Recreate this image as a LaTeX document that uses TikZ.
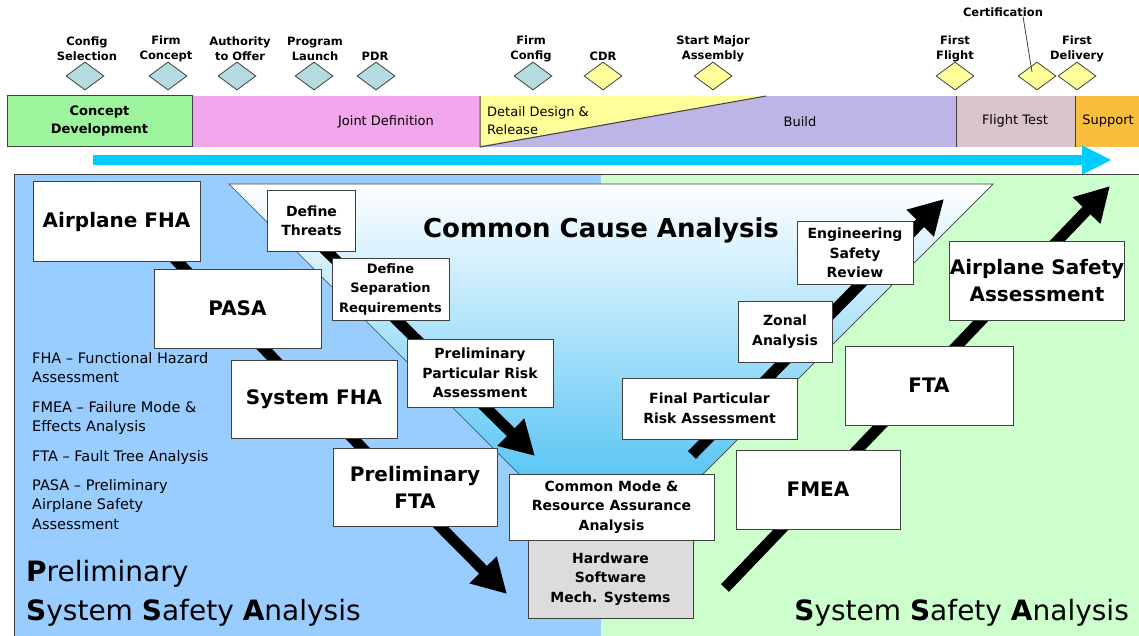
\documentclass[tikz,border=0pt]{standalone}
\usepackage{fontspec}
\setmainfont{DejaVu Sans}
\usetikzlibrary{shapes.geometric,arrows.meta}

\definecolor{conceptgreen}{HTML}{9CF59C}
\definecolor{jointpink}{HTML}{F2A6EC}
\definecolor{detailyellow}{HTML}{FFFF99}
\definecolor{buildpurple}{HTML}{BDB5E5}
\definecolor{testrose}{HTML}{D9C5C9}
\definecolor{supportorange}{HTML}{F8BE3E}
\definecolor{timecyan}{HTML}{00CCFF}
\definecolor{pssablue}{HTML}{99CCFF}
\definecolor{ssagreen}{HTML}{CCFFCC}
\definecolor{gateteal}{HTML}{B4DCE0}
\definecolor{gateyellow}{HTML}{FFFF99}
\definecolor{hwgray}{HTML}{DCDCDC}
\definecolor{ccapale}{HTML}{D6EFFC}
\definecolor{ccadeep}{HTML}{5CC6F5}
\definecolor{boxline}{HTML}{404040}

\tikzset{
  gate/.style={diamond, draw=boxline, line width=0.8pt, inner sep=0pt,
    minimum width=38pt, minimum height=28pt},
  gatelabel/.style={align=center, inner sep=0pt,
    font=\bfseries\fontsize{11.5}{15}\selectfont},
  phase/.style={inner sep=0pt, align=center, font=\fontsize{13}{18}\selectfont},
  bigbox/.style={draw=boxline, fill=white, line width=1pt, inner sep=0pt,
    align=center, font=\bfseries\fontsize{20}{27}\selectfont},
  smallbox/.style={bigbox, font=\bfseries\fontsize{14}{19.5}\selectfont},
  glossary/.style={anchor=north west, align=left, inner sep=0pt,
    font=\fontsize{14.5}{19.5}\selectfont},
  flow/.style={line width=11pt, -{Triangle[length=34pt,width=36pt]}},
}

\begin{document}
\begin{tikzpicture}[x=1pt,y=-1pt]
    \useasboundingbox (0,0) rectangle (1139,636);

    % phase bar
    \fill[jointpink] (192,96) rectangle (480,147);
    \fill[buildpurple] (480,96) rectangle (956,147);
    \fill[testrose] (956,96) rectangle (1075,147);
    \fill[supportorange] (1075,96) rectangle (1139,147);
    \fill[detailyellow] (480,96) -- (766,96) -- (480,146) -- cycle;
    \draw[boxline, line width=1pt] (480,96) -- (480,147) -- (766,96);
    \draw[boxline, line width=0.8pt] (956,96) -- (956,147);
    \draw[boxline, line width=0.8pt] (1075,96) -- (1075,147);

    \node[phase, draw=boxline, fill=conceptgreen, line width=1pt,
      minimum width=185pt, minimum height=51pt,
      font=\bfseries\fontsize{13}{18}\selectfont] (concept) at (99.5,121.5) {Concept\\Development};
    \node[phase] (joint) at (386,122) {Joint Definition};
    \node[phase, anchor=west, align=left] (detail) at (487,121) {Detail Design \&\\Release};
    \node[phase] (build) at (800,122) {Build};
    \node[phase] (ftest) at (1015,121) {Flight Test};
    \node[phase] (support) at (1108,121) {Support};

    % milestones
    \node[gate, fill=gateteal] (cfgsel) at (85,76) {};
    \node[gate, fill=gateteal] (firmcon) at (168,76) {};
    \node[gate, fill=gateteal] (offer) at (237,76) {};
    \node[gate, fill=gateteal] (launch) at (314,76) {};
    \node[gate, fill=gateteal] (pdr) at (376,76) {};
    \node[gate, fill=gateteal] (firmcfg) at (533,76) {};
    \node[gate, fill=gateyellow] (cdr) at (603,76) {};
    \node[gate, fill=gateyellow] (assy) at (713,76) {};
    \node[gate, fill=gateyellow] (fflight) at (955,76) {};
    \node[gate, fill=gateyellow] (cert) at (1037,76) {};
    \node[gate, fill=gateyellow] (fdel) at (1077,76) {};

    \node[gatelabel] (cfgsellbl) at (87,48.5) {Config\\Selection};
    \node[gatelabel] (firmconlbl) at (166,48.5) {Firm\\Concept};
    \node[gatelabel] (offerlbl) at (240,48.5) {Authority\\to Offer};
    \node[gatelabel] (launchlbl) at (315,48.5) {Program\\Launch};
    \node[gatelabel] (pdrlbl) at (375,56) {PDR};
    \node[gatelabel] (firmcfglbl) at (531,48.5) {Firm\\Config};
    \node[gatelabel] (cdrlbl) at (603,56) {CDR};
    \node[gatelabel] (assylbl) at (713,48.5) {Start Major\\Assembly};
    \node[gatelabel] (fflightlbl) at (955,48.5) {First\\Flight};
    \node[gatelabel] (certlbl) at (1003,12) {Certification};
    \node[gatelabel] (fdellbl) at (1077,48.5) {First\\Delivery};
    \draw[boxline, line width=0.8pt] ([xshift=20pt]certlbl.south) -- ([xshift=-5pt,yshift=4pt]cert.center);

    % time arrow
    \coordinate (tstart) at (93,160);
    \coordinate (tend) at (1112,160);
    \draw[timecyan, line width=10pt, -{Triangle[length=30pt,width=27pt]}] (tstart) -- (tend);

    % analysis panels
    \fill[pssablue] (14,175) rectangle (601,636);
    \fill[ssagreen] (601,175) rectangle (1139,636);
    \draw[boxline, line width=1pt] (14,636) -- (14,175) -- (1139,175);

    \shade[top color=white, middle color=ccapale, bottom color=ccadeep]
      (229,184) -- (993,184) -- (700,477) -- (522,477) -- cycle;
    \draw[boxline, line width=0.7pt] (522,477) -- (229,184) -- (993,184) -- (700,477);
    \node[inner sep=0pt, font=\bfseries\fontsize{26}{30}\selectfont] (cca) at (601,230) {Common Cause Analysis};

    % flows
    \coordinate (pssatop) at (150,234);
    \coordinate (pssaend) at (507,594);
    \coordinate (ccain) at (300,225);
    \coordinate (ccaturn) at (535,456);
    \coordinate (ccaout) at (692,455);
    \coordinate (ccaend) at (944,199);
    \coordinate (ssastart) at (725,588);
    \coordinate (ssaend) at (1110,186);
    \draw[flow] (pssatop) -- (pssaend);
    \draw[flow] (ccain) -- (ccaturn);
    \draw[flow] (ccaout) -- (ccaend);
    \draw[flow] (ssastart) -- (ssaend);

    % boxes
    \node[bigbox, minimum width=167pt, minimum height=79pt] (afha) at (116.5,221.5) {Airplane FHA};
    \node[bigbox, minimum width=167pt, minimum height=79pt] (pasa) at (237.5,308.5) {PASA};
    \node[bigbox, minimum width=166pt, minimum height=78pt] (sysfha) at (314,399) {System FHA};
    \node[bigbox, minimum width=164pt, minimum height=78pt] (pfta) at (415,487) {Preliminary\\FTA};
    \node[smallbox, minimum width=88pt, minimum height=60pt] (threats) at (311.5,221) {Define\\Threats};
    \node[smallbox, minimum width=117pt, minimum height=62pt,
      font=\bfseries\fontsize{13}{19.5}\selectfont] (sepreq) at (390.5,289) {Define\\Separation\\Requirements};
    \node[smallbox, minimum width=146pt, minimum height=68pt] (ppra) at (480,373) {Preliminary\\Particular Risk\\Assessment};
    \node[smallbox, minimum width=205pt, minimum height=66pt] (cmra) at (611.5,507) {Common Mode \&\\Resource Assurance\\Analysis};
    \node[smallbox, fill=hwgray, minimum width=165pt, minimum height=78pt] (hw) at (610.5,579) {Hardware\\Software\\Mech. Systems};
    \node[smallbox, minimum width=175pt, minimum height=61pt] (fpra) at (709.5,408.5) {Final Particular\\Risk Assessment};
    \node[smallbox, minimum width=94pt, minimum height=61pt] (zonal) at (785,331.5) {Zonal\\Analysis};
    \node[smallbox, minimum width=116pt, minimum height=62pt] (esr) at (855,253) {Engineering\\Safety\\Review};
    \node[bigbox, minimum width=168pt, minimum height=79pt] (asa) at (1037,280.5) {Airplane Safety\\Assessment};
    \node[bigbox, minimum width=168pt, minimum height=79pt] (fta) at (929,385.5) {FTA};
    \node[bigbox, minimum width=164pt, minimum height=79pt] (fmea) at (818,489.5) {FMEA};

    % glossary
    \node[glossary] (gfha) at (32,352) {FHA -- Functional Hazard\\Assessment};
    \node[glossary] (gfmea) at (32,401) {FMEA -- Failure Mode \&\\Effects Analysis};
    \node[glossary] (gfta) at (32,450) {FTA -- Fault Tree Analysis};
    \node[glossary] (gpasa) at (32,479) {PASA -- Preliminary\\Airplane Safety\\Assessment};

    % titles
    \node[anchor=base west, inner sep=0pt, font=\fontsize{28}{38}\selectfont] (psa1) at (26,581) {\textbf{P}reliminary};
    \node[anchor=base west, inner sep=0pt, font=\fontsize{28}{38}\selectfont] (psa2) at (26,620) {\textbf{S}ystem \textbf{S}afety \textbf{A}nalysis};
    \node[anchor=base east, inner sep=0pt, font=\fontsize{28}{38}\selectfont] (ssa) at (1129,620) {\textbf{S}ystem \textbf{S}afety \textbf{A}nalysis};
\end{tikzpicture}
\end{document}
